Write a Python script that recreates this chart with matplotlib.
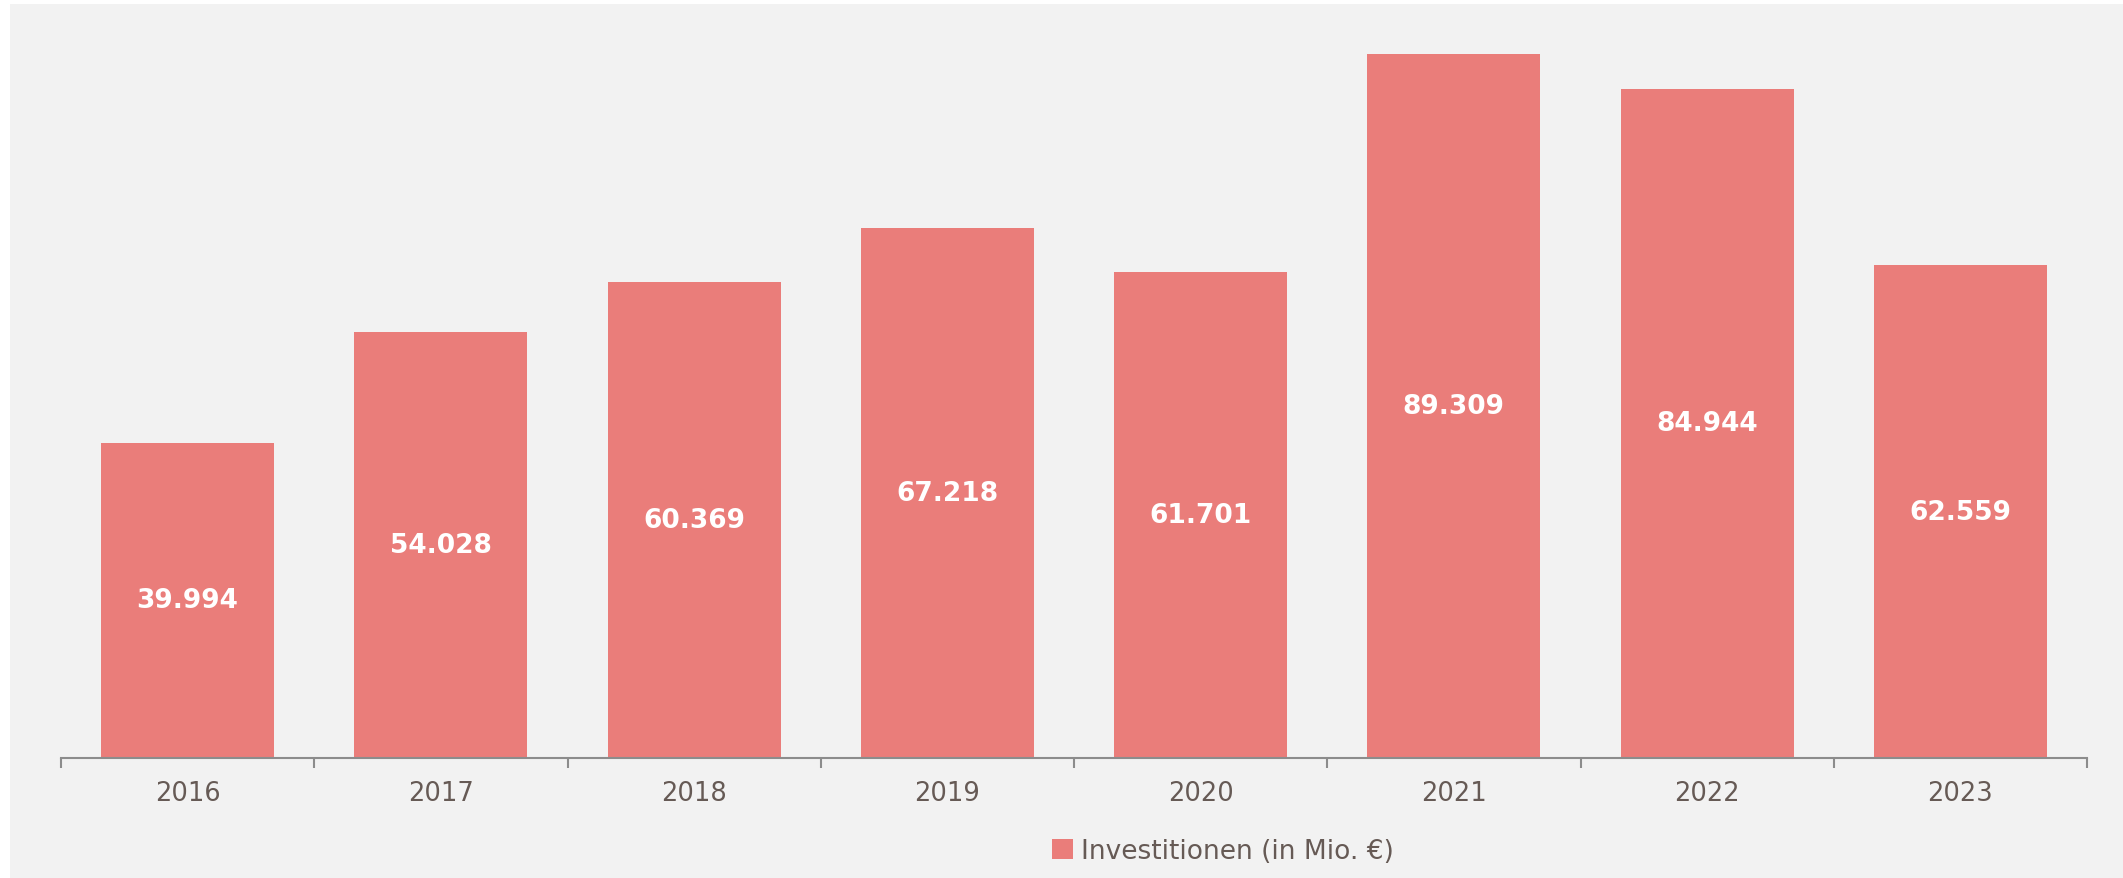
import matplotlib
matplotlib.use("Agg")
import matplotlib.pyplot as plt
from matplotlib.patches import Rectangle, Patch

years = ["2016", "2017", "2018", "2019", "2020", "2021", "2022", "2023"]
investments = [39.994, 54.028, 60.369, 67.218, 61.701, 89.309, 84.944, 62.559]
series_name = "Investitionen (in Mio. €)"

W, H = 2123, 879
dpi = 100
bar_color = "#EA7D7A"
bg = "#F2F2F2"
text_color = "#665A55"
axis_color = "#8C8C8C"

fig = plt.figure(figsize=(W / dpi, H / dpi), dpi=dpi)
fig.patch.set_facecolor("white")
fig.add_artist(Rectangle((10 / W, 0), 1 - 10 / W, 1 - 5 / H, transform=fig.transFigure,
                         facecolor=bg, edgecolor="none", zorder=0))

left, right = 61 / W, 2087 / W
bottom = 1 - 759 / H
top = 1 - 9 / H
ax = fig.add_axes([left, bottom, right - left, top - bottom])
ax.set_facecolor("none")

x = list(range(len(years)))
bars = ax.bar(x, investments, width=0.683, color=bar_color, zorder=2)
ax.set_xlim(-0.5, len(years) - 0.5)
ax.set_ylim(0, 95.2)

for xi, v in zip(x, investments):
    ax.text(xi, v / 2, f"{v:.3f}", ha="center", va="center", color="white",
            fontsize=19, fontweight="bold", zorder=3)

for s in ["top", "right", "left"]:
    ax.spines[s].set_visible(False)
ax.spines["bottom"].set_color(axis_color)
ax.spines["bottom"].set_linewidth(1.5)
ax.set_yticks([])
ax.set_xticks(x)
ax.set_xticklabels(years, fontsize=18.5, color=text_color)
ax.tick_params(axis="x", which="major", length=0, pad=16)
ax.set_xticks([i - 0.5 for i in range(len(years) + 1)], minor=True)
ax.tick_params(axis="x", which="minor", length=7, width=1.5, color=axis_color)

handle = Patch(facecolor=bar_color, edgecolor="none")
fig.legend([handle], [series_name], loc="center", bbox_to_anchor=(1223 / W, 1 - 852 / H),
           frameon=False, fontsize=19, labelcolor=text_color, handlelength=0.8,
           handleheight=0.8, handletextpad=0.3)

fig.savefig("out.png", dpi=dpi, facecolor=fig.get_facecolor())
